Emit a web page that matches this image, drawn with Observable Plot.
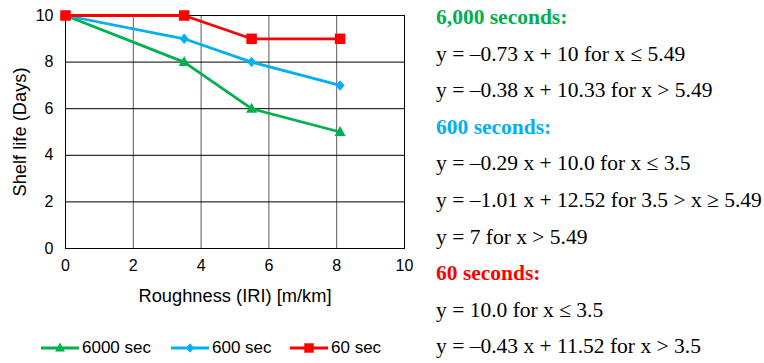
<!DOCTYPE html>
<html>
<head>
<meta charset="utf-8">
<script src="https://cdn.jsdelivr.net/npm/d3@7"></script>
<script src="https://cdn.jsdelivr.net/npm/@observablehq/plot@0.6"></script>
<style>
  body { margin: 0; background: #fff; }
  #wrap { position: relative; width: 764px; height: 363px; overflow: hidden; background: #fff; }
  #chart { position: absolute; left: 0; top: 0; }
  #legend { position: absolute; left: 0; top: 336px; width: 420px; font-family: "Liberation Sans", Arial, sans-serif; font-size: 17px; color: #000; }
  #legend .item { position: absolute; top: 0; display: flex; align-items: center; height: 24px; }
  #legend svg { margin-right: 3px; }
  #eqs { position: absolute; left: 436px; top: 0; font-family: "Liberation Serif", "Times New Roman", serif; font-size: 21.5px; color: #000; }
  #eqs div { position: absolute; white-space: nowrap; line-height: 24px; }
  #eqs .h { font-weight: bold; }
</style>
</head>
<body>
<div id="wrap">
  <div id="chart"></div>
  <div id="legend"></div>
  <div id="eqs"></div>
</div>
<script>
// Data
const roughness = [0, 3.5, 5.49, 8.1];
const sec6000 = [10, 8, 6, 5];
const sec600 = [10, 9, 8, 7];
const sec60 = [10, 10, 9, 9];
const seriesNames = ["6000 sec", "600 sec", "60 sec"];
const seriesColors = ["#00b050", "#00b0f0", "#ff0000"];
const xTicks = [0, 2, 4, 6, 8, 10];
const yTicks = [0, 2, 4, 6, 8, 10];
const xLabel = "Roughness (IRI) [m/km]";
const yLabel = "Shelf life (Days)";

const equationGroups = [
  { title: "6,000 seconds:", color: "#00b050", lines: ["y = \u20130.73 x + 10 for x \u2264 5.49", "y = \u20130.38 x + 10.33 for x > 5.49"] },
  { title: "600 seconds:", color: "#00b0f0", lines: ["y = \u20130.29 x + 10.0 for x \u2264 3.5", "y = \u20131.01 x + 12.52 for 3.5 > x \u2265 5.49", "y = 7 for x > 5.49"] },
  { title: "60 seconds:", color: "#ff0000", lines: ["y = 10.0 for x \u2264 3.5", "y = \u20130.43 x + 11.52 for x > 3.5"] }
];

// marker shapes (width, height in px)
const triangleSym = { draw(ctx) { const w = 11, h = 10; ctx.moveTo(0, -h * 0.6); ctx.lineTo(w / 2, h * 0.4); ctx.lineTo(-w / 2, h * 0.4); ctx.closePath(); } };
const diamondSym = { draw(ctx) { const w = 9, h = 10.5; ctx.moveTo(0, -h / 2); ctx.lineTo(w / 2, 0); ctx.lineTo(0, h / 2); ctx.lineTo(-w / 2, 0); ctx.closePath(); } };
const squareSym = { draw(ctx) { const s = 10.5; ctx.rect(-s / 2, -s / 2, s, s); } };
const seriesSymbols = [triangleSym, diamondSym, squareSym];

const allValues = [sec6000, sec600, sec60];
const rows = [];
allValues.forEach((vals, si) => {
  vals.forEach((v, i) => rows.push({ series: seriesNames[si], x: roughness[i], y: v }));
});

const marks = [
  Plot.gridX(xTicks, { stroke: "#5a5a5a", strokeOpacity: 1, strokeWidth: 1 }),
  Plot.gridY(yTicks, { stroke: "#000", strokeOpacity: 1, strokeWidth: 1 }),
  Plot.frame({ stroke: "#000" })
];
seriesNames.forEach((name, si) => {
  const data = rows.filter(d => d.series === name);
  marks.push(Plot.line(data, { x: "x", y: "y", stroke: seriesColors[si], strokeWidth: 2.8 }));
  marks.push(Plot.dot(data, { x: "x", y: "y", fill: seriesColors[si], stroke: "none", symbol: () => seriesSymbols[si], r: 4 }));
});

const plot = Plot.plot({
  width: 420,
  height: 310,
  marginLeft: 65,
  marginRight: 16,
  marginTop: 15,
  marginBottom: 62,
  style: { fontFamily: "'Liberation Sans', Arial, sans-serif", fontSize: "15px", color: "#000", background: "transparent", overflow: "visible" },
  x: { domain: [0, 10], ticks: xTicks, tickSize: 0, tickPadding: 11, label: xLabel, labelAnchor: "center", labelArrow: "none", labelOffset: 53 },
  y: { domain: [0, 10], ticks: yTicks, tickSize: 0, tickPadding: 12, label: yLabel, labelAnchor: "center", labelArrow: "none", labelOffset: 53 },
  marks
});
plot.querySelectorAll("text").forEach(t => {
  const s = t.textContent;
  if (s === xLabel || s === yLabel) t.style.fontSize = "18.3px";
  else t.style.fontSize = "16px";
});
document.getElementById("chart").appendChild(plot);

// Legend
const legend = document.getElementById("legend");
const legendLeft = [41, 171, 290];
seriesNames.forEach((name, si) => {
  const item = document.createElement("div");
  item.className = "item";
  item.style.left = legendLeft[si] + "px";
  const s = d3.create("svg").attr("width", 38).attr("height", 24);
  s.append("line").attr("x1", 0).attr("x2", 38).attr("y1", 12).attr("y2", 12).attr("stroke", seriesColors[si]).attr("stroke-width", 2.8);
  const p = d3.path();
  seriesSymbols[si].draw(p);
  s.append("path").attr("transform", "translate(19,12) scale(0.9)").attr("d", p.toString()).attr("fill", seriesColors[si]);
  item.appendChild(s.node());
  const t = document.createElement("span");
  t.textContent = name;
  item.appendChild(t);
  legend.appendChild(item);
});

// Equations
const eqs = document.getElementById("eqs");
let row = 0;
const rowTop = 5, rowStep = 36.6;
equationGroups.forEach(g => {
  const h = document.createElement("div");
  h.className = "h";
  h.style.color = g.color;
  h.style.top = (rowTop + row * rowStep) + "px";
  h.textContent = g.title;
  eqs.appendChild(h);
  row++;
  g.lines.forEach(l => {
    const d = document.createElement("div");
    d.style.top = (rowTop + row * rowStep) + "px";
    d.textContent = l;
    eqs.appendChild(d);
    row++;
  });
});
</script>
</body>
</html>
